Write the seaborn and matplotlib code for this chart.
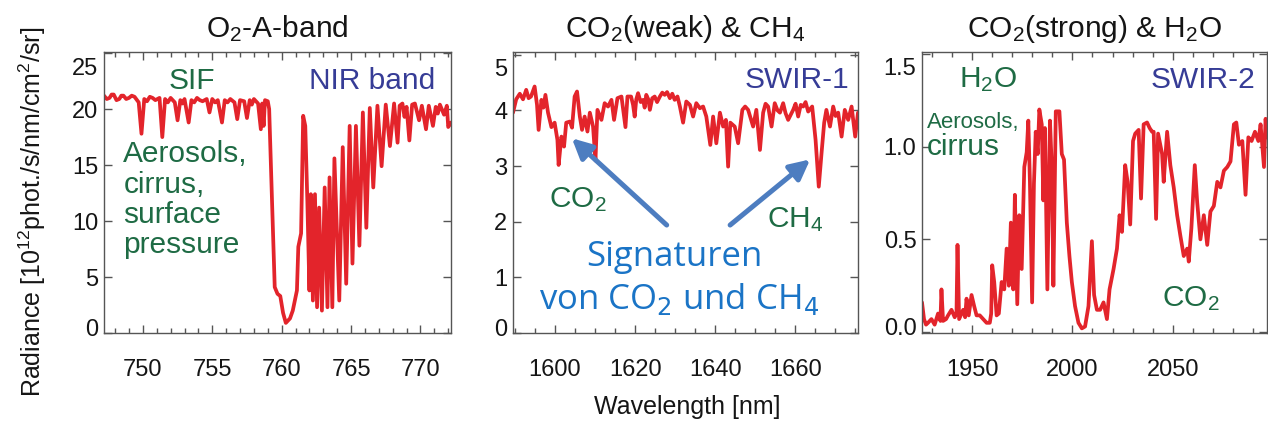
import matplotlib
matplotlib.use("Agg")
import matplotlib.pyplot as plt
import matplotlib.transforms as mtransforms
from matplotlib.ticker import MultipleLocator, FuncFormatter
import seaborn as sns

# ---------------- spectra ----------------
o2a_wl = [747.2, 747.4, 747.6, 747.75, 747.9, 748.1, 748.3, 748.45, 748.6, 748.8,
          749.0, 749.2, 749.4, 749.7, 749.9, 750.1, 750.3, 750.5, 750.7, 750.9,
          751.2, 751.4, 751.6, 751.8, 752.0, 752.3, 752.5, 752.7, 752.85, 753.0,
          753.3, 753.5, 753.7, 753.9, 754.1, 754.3, 754.6, 754.8, 755.0, 755.2,
          755.4, 755.7, 755.9, 756.1, 756.3, 756.6, 756.8, 757.0, 757.3, 757.5,
          757.7, 757.85, 758.0, 758.3, 758.5, 758.6, 758.7, 758.8, 759.0, 759.1,
          759.3, 759.5, 759.7, 759.9, 760.1, 760.3, 760.6, 760.8, 761.1, 761.2,
          761.4, 761.55, 761.7, 761.85, 762.0, 762.1, 762.25, 762.4, 762.55, 762.7,
          762.9, 763.1, 763.3, 763.45, 763.65, 763.8, 764.15, 764.4, 764.65, 764.9,
          765.1, 765.35, 765.6, 765.85, 766.1, 766.35, 766.6, 766.9, 767.2, 767.5,
          767.8, 768.1, 768.35, 768.5, 768.7, 768.85, 769.0, 769.2, 769.4, 769.6,
          769.9, 770.1, 770.4, 770.6, 770.9, 771.1, 771.25, 771.4, 771.7, 771.9,
          772.0, 772.2]
o2a_rad = [21.2, 20.9, 21.0, 21.3, 21.3, 20.8, 20.9, 21.2, 21.2, 20.9,
           21.0, 21.2, 21.1, 20.6, 17.8, 20.9, 20.7, 21.1, 21.0, 20.8,
           21.0, 17.5, 20.9, 20.6, 21.0, 20.6, 19.0, 20.8, 20.5, 20.9,
           18.8, 20.8, 20.6, 21.0, 20.8, 20.7, 20.9, 19.7, 20.9, 20.6,
           20.8, 18.8, 20.8, 20.6, 20.9, 20.6, 19.1, 20.8, 20.7, 19.2,
           20.8, 20.4, 20.9, 20.5, 18.2, 20.5, 18.5, 20.8, 20.7, 20.0,
           12.0, 4.1, 3.5, 3.3, 1.8, 0.9, 1.3, 2.0, 3.8, 7.7,
           8.9, 19.4, 18.5, 11.8, 3.8, 12.4, 2.9, 12.4, 2.3, 11.2,
           2.0, 13.0, 2.3, 13.9, 2.3, 15.6, 2.9, 16.6, 4.4, 18.5,
           6.2, 18.5, 7.8, 19.7, 9.4, 20.1, 13.0, 20.3, 14.9, 20.4,
           16.7, 20.5, 17.0, 20.3, 20.5, 19.3, 20.2, 17.2, 20.4, 20.5,
           19.0, 20.3, 18.2, 20.3, 18.5, 20.2, 19.6, 20.4, 19.5, 20.3,
           18.4, 18.8]

swir1_wl = [1589.5, 1590.3, 1591.2, 1592.0, 1592.8, 1593.4, 1594.0, 1594.9, 1595.5, 1595.9,
            1596.6, 1597.1, 1597.6, 1598.25, 1599.1, 1599.9, 1600.6, 1600.9, 1601.6, 1602.25,
            1602.8, 1603.7, 1604.25, 1604.9, 1605.5, 1606.2, 1606.75, 1607.4, 1608.1, 1608.7,
            1609.5, 1610.1, 1610.6, 1611.6, 1612.4, 1613.25, 1614.1, 1614.75, 1615.6, 1616.6,
            1617.6, 1618.1, 1619.0, 1619.5, 1619.9, 1620.3, 1620.75, 1621.4, 1622.0, 1622.4,
            1622.8, 1623.3, 1623.7, 1624.3, 1624.9, 1625.5, 1626.2, 1626.8, 1627.4, 1628.0,
            1628.7, 1629.3, 1629.9, 1630.6, 1631.2, 1632.0, 1632.8, 1633.7, 1634.5, 1635.3,
            1636.2, 1637.0, 1637.8, 1638.8, 1639.5, 1640.3, 1641.2, 1642.0, 1642.7, 1643.25,
            1643.8, 1644.9, 1645.75, 1646.8, 1647.5, 1648.25, 1649.5, 1650.3, 1651.2, 1652.0,
            1652.6, 1653.25, 1654.1, 1654.9, 1655.6, 1656.2, 1657.0, 1657.6, 1658.25, 1659.5,
            1660.1, 1660.75, 1661.4, 1662.0, 1662.6, 1663.25, 1664.25, 1665.1, 1665.9, 1666.6,
            1667.25, 1667.8, 1668.7, 1669.5, 1670.1, 1670.75, 1671.6, 1672.4, 1673.25, 1674.1,
            1675.0, 1675.7]
swir1_rad = [3.96, 4.20, 4.30, 4.20, 4.37, 4.22, 4.25, 4.43, 4.10, 3.65,
             4.19, 4.05, 4.28, 3.96, 3.70, 3.78, 3.47, 3.02, 3.53, 3.35,
             3.78, 3.80, 3.69, 4.25, 4.34, 3.89, 3.65, 3.89, 3.62, 3.96,
             3.71, 3.10, 4.01, 3.83, 4.13, 4.07, 4.19, 3.83, 4.22, 4.25,
             3.70, 4.25, 4.25, 4.10, 3.89, 4.20, 4.31, 4.15, 4.19, 4.05,
             4.28, 4.20, 4.01, 4.22, 4.25, 4.15, 4.25, 4.32, 4.28, 4.33,
             4.22, 4.30, 4.19, 4.25, 4.07, 3.78, 4.16, 4.10, 3.89, 4.13,
             4.04, 4.07, 3.89, 3.38, 3.89, 3.41, 3.96, 3.71, 3.83, 2.99,
             3.78, 3.71, 3.41, 4.01, 4.07, 4.01, 3.71, 4.01, 3.29, 3.96,
             4.12, 4.07, 3.71, 4.13, 4.00, 3.96, 4.13, 3.95, 3.83, 4.01,
             4.12, 3.89, 4.10, 4.07, 4.15, 3.98, 4.07, 3.47, 2.63, 3.24,
             3.78, 4.01, 3.71, 4.07, 3.90, 3.96, 3.53, 4.01, 3.83, 4.07,
             3.53, 3.96]

swir2_wl = [1925.0, 1926.0, 1927.0, 1928.0, 1929.7, 1931.3, 1933.0, 1934.2, 1934.7, 1935.5,
            1937.0, 1938.0, 1939.7, 1941.3, 1942.2, 1942.7, 1943.5, 1945.5, 1946.5, 1947.2,
            1948.3, 1949.7, 1951.0, 1952.2, 1953.8, 1955.5, 1957.2, 1958.8, 1959.5, 1960.0,
            1961.0, 1962.2, 1963.3, 1964.7, 1966.0, 1967.2, 1968.3, 1969.3, 1970.5, 1971.3,
            1972.5, 1973.5, 1974.7, 1976.0, 1977.2, 1978.0, 1978.8, 1979.9, 1980.8, 1981.7,
            1982.7, 1983.5, 1984.7, 1985.5, 1986.3, 1987.5, 1988.8, 1989.7, 1990.5, 1991.7,
            1993.5, 1994.7, 1995.8, 1997.2, 1998.5, 1999.7, 2001.3, 2003.0, 2004.7, 2006.3,
            2008.0, 2009.7, 2010.8, 2012.2, 2013.8, 2015.5, 2017.2, 2018.5, 2020.5, 2022.2,
            2023.5, 2024.7, 2026.3, 2027.5, 2028.8, 2030.2, 2031.3, 2033.0, 2034.2, 2035.5,
            2037.2, 2038.5, 2039.7, 2040.5, 2041.7, 2042.7, 2044.7, 2045.5, 2047.2, 2048.8,
            2050.5, 2052.2, 2053.8, 2055.5, 2057.2, 2058.0, 2059.3, 2061.0, 2062.2, 2063.8,
            2065.5, 2067.2, 2068.8, 2070.5, 2072.2, 2073.8, 2075.5, 2077.2, 2078.8, 2080.5,
            2081.7, 2083.0, 2084.7, 2086.3, 2087.7, 2089.3, 2091.0, 2092.7, 2093.8, 2095.5,
            2096.3, 2097.0]
swir2_rad = [0.16, 0.07, 0.04, 0.05, 0.07, 0.04, 0.10, 0.06, 0.23, 0.06,
             0.07, 0.09, 0.12, 0.08, 0.10, 0.47, 0.07, 0.12, 0.08, 0.18,
             0.09, 0.20, 0.14, 0.09, 0.09, 0.07, 0.05, 0.05, 0.10, 0.36,
             0.27, 0.09, 0.10, 0.27, 0.23, 0.45, 0.25, 0.59, 0.23, 0.74,
             0.15, 0.63, 0.34, 0.89, 0.97, 1.14, 0.81, 0.16, 0.80, 1.08,
             0.96, 1.20, 1.12, 0.71, 1.10, 0.23, 1.14, 0.89, 0.25, 1.19,
             1.19, 0.96, 0.93, 0.59, 0.41, 0.27, 0.14, 0.05, 0.02, 0.03,
             0.14, 0.49, 0.20, 0.12, 0.12, 0.16, 0.07, 0.23, 0.34, 0.45,
             0.63, 0.54, 0.90, 0.81, 0.58, 1.03, 1.07, 1.09, 0.72, 1.12,
             1.13, 1.10, 1.08, 1.08, 0.61, 1.07, 0.96, 0.81, 1.08, 0.90,
             0.78, 0.63, 0.52, 0.41, 0.45, 0.38, 0.56, 0.90, 0.70, 0.50,
             0.63, 0.47, 0.65, 0.68, 0.81, 0.78, 0.87, 0.89, 0.92, 1.12,
             1.13, 1.01, 1.03, 0.74, 1.05, 1.03, 1.08, 1.03, 1.12, 0.89,
             1.15, 1.05]

panel_titles = [r"O$_2$-A-band", r"CO$_2$(weak) & CH$_4$", r"CO$_2$(strong) & H$_2$O"]
band_names = ["NIR band", "SWIR-1", "SWIR-2"]

# ---------------- style ----------------
sns.set_style("ticks")
plt.rcParams["font.family"] = ["Liberation Sans", "DejaVu Sans"]
plt.rcParams["mathtext.fontset"] = "custom"
plt.rcParams["mathtext.rm"] = "Liberation Sans"
plt.rcParams["mathtext.it"] = "Liberation Sans:italic"
plt.rcParams["mathtext.bf"] = "Liberation Sans:bold"

RED = "#e3242b"
GREEN = "#1e6b44"
BAND = "#363c96"
NOTE = "#1a74c6"
ARROW = "#4d7dc0"
SPINE = "#555555"
INK = "#151515"

fig = plt.figure(figsize=(12.68, 4.25), dpi=100)
W, H = 1268, 425
boxes = [(104, 451), (513, 858), (922, 1267)]
top_px, bot_px = 52, 333
axes = [fig.add_axes([l / W, 1 - bot_px / H, (r - l) / W, (bot_px - top_px) / H]) for l, r in boxes]

data = [(o2a_wl, o2a_rad), (swir1_wl, swir1_rad), (swir2_wl, swir2_rad)]
xlims = [(747.2, 772.2), (1589.5, 1675.7), (1925, 2097)]
ylims = [(0, 25.1), (0, 5.05), (-0.005, 1.51)]
xmaj = [5, 20, 50]
xmin = [1, 5, 10]
ymaj = [5, 1, 0.5]
yfmt = ["{:.0f}", "{:.0f}", "{:.1f}"]

for i, ax in enumerate(axes):
    wl, rad = data[i]
    sns.lineplot(x=wl, y=rad, ax=ax, color=RED, linewidth=2.7, estimator=None, sort=False)
    ax.set_xlim(*xlims[i])
    ax.set_ylim(*ylims[i])
    ax.xaxis.set_major_locator(MultipleLocator(xmaj[i]))
    ax.xaxis.set_minor_locator(MultipleLocator(xmin[i]))
    ax.yaxis.set_major_locator(MultipleLocator(ymaj[i]))
    ax.yaxis.set_major_formatter(FuncFormatter(lambda v, p, f=yfmt[i]: f.format(v)))
    ax.tick_params(which="both", direction="in", top=True, right=True, color=SPINE, width=1.0)
    ax.tick_params(which="major", length=6, labelsize=17, labelcolor=INK)
    ax.tick_params(which="minor", length=3.5)
    ax.tick_params(axis="x", which="major", pad=19)
    ax.tick_params(axis="y", which="major", pad=4)
    for s in ax.spines.values():
        s.set_color(SPINE)
        s.set_linewidth(1.0)
    ax.set_xlabel("")
    ax.set_ylabel("")
    ax.set_title(panel_titles[i], fontsize=21.5, pad=11, color=INK)
    ax.set_facecolor("white")

# pull the outermost y tick labels inside the frame
fig.canvas.draw()
for ax in axes:
    lo, hi = ax.get_ylim()
    for t, v in zip(ax.yaxis.get_major_ticks(), ax.yaxis.get_majorticklocs()):
        if v <= hi and v >= hi - 0.05 * (hi - lo):
            t.label1.set_transform(t.label1.get_transform() +
                                   mtransforms.ScaledTranslation(0, -0.13, fig.dpi_scale_trans))
        elif abs(v) < 1e-9:
            t.label1.set_transform(t.label1.get_transform() +
                                   mtransforms.ScaledTranslation(0, 0.06, fig.dpi_scale_trans))

ax1, ax2, ax3 = axes
# panel 1 labels
ax1.text(753.5, 22.5, "SIF", color=GREEN, fontsize=21.5, ha="center", va="center")
ax1.text(766.5, 22.5, band_names[0], color=BAND, fontsize=21.5, ha="center", va="center")
ax1.text(748.6, 11.9, "Aerosols,\ncirrus,\nsurface\npressure", color=GREEN, fontsize=21.5,
         ha="left", va="center", linespacing=1.1)

# panel 2 labels
ax2.text(1660.5, 4.55, band_names[1], color=BAND, fontsize=21.5, ha="center", va="center")
ax2.text(1605.7, 2.39, r"CO$_2$", color=GREEN, fontsize=21.5, ha="center", va="center")
ax2.text(1660.0, 2.03, r"CH$_4$", color=GREEN, fontsize=21.5, ha="center", va="center")
ax2.annotate("", xy=(1604.2, 3.5), xytext=(1627.9, 1.94),
             arrowprops=dict(arrowstyle="-|>", color=ARROW, lw=3.6, mutation_scale=30,
                             shrinkA=0, shrinkB=0))
ax2.annotate("", xy=(1663.75, 3.12), xytext=(1643.75, 1.94),
             arrowprops=dict(arrowstyle="-|>", color=ARROW, lw=3.6, mutation_scale=30,
                             shrinkA=0, shrinkB=0))
note_font = ["Open Sans", "DejaVu Sans"]
ax2.text(1629.9, 1.37, "Signaturen", color=NOTE, fontsize=25, ha="center", va="center",
         family=note_font)
ax2.text(1631.0, 0.62, "von CO$_2$ und CH$_4$", color=NOTE, fontsize=25, ha="center",
         va="center", family=note_font, math_fontfamily="dejavusans")

# panel 3 labels
ax3.text(1958, 1.36, r"H$_2$O", color=GREEN, fontsize=21.5, ha="center", va="center")
ax3.text(1927.5, 1.13, "Aerosols,", color=GREEN, fontsize=16, ha="left", va="center")
ax3.text(1927.5, 1.0, "cirrus", color=GREEN, fontsize=21.5, ha="left", va="center")
ax3.text(2065, 1.36, band_names[2], color=BAND, fontsize=21.5, ha="center", va="center")
ax3.text(2059, 0.18, r"CO$_2$", color=GREEN, fontsize=21.5, ha="center", va="center")

fig.text(32 / W, 1 - 212 / H, r"Radiance [10$^{12}$phot./s/nm/cm$^2$/sr]", rotation=90,
         ha="center", va="center", fontsize=18, color=INK)
fig.text(687 / W, 1 - 407 / H, "Wavelength [nm]", ha="center", va="center", fontsize=18,
         color=INK)

fig.savefig("out.png", dpi=100, facecolor="white")
